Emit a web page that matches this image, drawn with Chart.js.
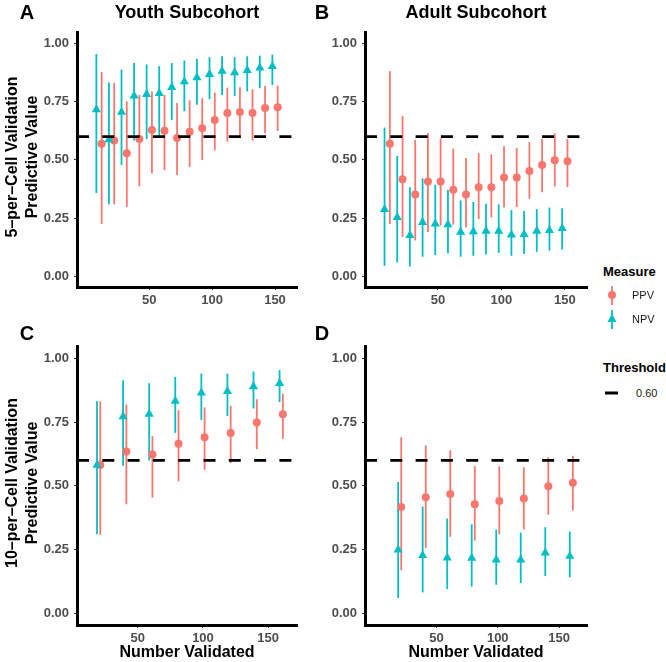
<!DOCTYPE html>
<html lang="en">
<head>
<meta charset="UTF-8">
<title>Predictive Value by Number Validated</title>
<script src="https://cdn.jsdelivr.net/npm/chart.js"></script>
<style>
    body { margin: 0; background: #fff; font-family: "Liberation Sans", Arial, sans-serif; }
    #wrap { position: relative; width: 666px; height: 662px; overflow: hidden; }
    canvas { position: absolute; }
    .txt { position: absolute; white-space: nowrap; line-height: 1; font-weight: bold; color: #000;
           transform: translate(-50%, -50%); }
    .rot { transform: translate(-50%, -50%) rotate(-90deg); }
    .leg { position: absolute; white-space: nowrap; line-height: 1; transform: translateY(-50%); color: #1a1a1a; }
    svg { position: absolute; }
</style>
</head>
<body>
<div id="wrap">
    <canvas id="panelA" width="305" height="300" style="left:0px;top:20px"></canvas>
    <canvas id="panelB" width="300" height="300" style="left:300px;top:20px"></canvas>
    <canvas id="panelC" width="305" height="316" style="left:0px;top:334px"></canvas>
    <canvas id="panelD" width="300" height="316" style="left:300px;top:334px"></canvas>

    <div class="txt" style="left:27px;top:12px;font-size:20px">A</div>
    <div class="txt" style="left:322px;top:12px;font-size:20px">B</div>
    <div class="txt" style="left:27px;top:333px;font-size:20px">C</div>
    <div class="txt" style="left:322px;top:333px;font-size:20px">D</div>
    <div class="txt" style="left:187px;top:12px;font-size:18px">Youth Subcohort</div>
    <div class="txt" style="left:476px;top:12px;font-size:18px">Adult Subcohort</div>

    <div class="txt rot" style="left:12px;top:157px;font-size:16px">5–per–Cell Validation</div>
    <div class="txt rot" style="left:32px;top:157px;font-size:16px">Predictive Value</div>
    <div class="txt rot" style="left:12px;top:483px;font-size:16px">10–per–Cell Validation</div>
    <div class="txt rot" style="left:32px;top:483px;font-size:16px">Predictive Value</div>

    <div class="txt" style="left:187px;top:652px;font-size:16px">Number Validated</div>
    <div class="txt" style="left:476px;top:652px;font-size:16px">Number Validated</div>

    <!-- legend -->
    <div class="leg" style="left:603px;top:271px;font-size:13px;font-weight:bold;color:#000">Measure</div>
    <svg style="left:603px;top:285px" width="18" height="22">
        <line x1="9" y1="1" x2="9" y2="20" stroke="#F8766D" stroke-width="1.8"/>
        <circle cx="9" cy="10" r="4" fill="#F8766D"/>
    </svg>
    <div class="leg" style="left:632px;top:295px;font-size:11px">PPV</div>
    <svg style="left:603px;top:309px" width="18" height="22">
        <line x1="9" y1="1" x2="9" y2="20" stroke="#00BFC4" stroke-width="1.8"/>
        <polygon points="9,5 13.6,13 4.4,13" fill="#00BFC4"/>
    </svg>
    <div class="leg" style="left:632px;top:319px;font-size:11px">NPV</div>
    <div class="leg" style="left:603px;top:367px;font-size:13px;font-weight:bold;color:#000">Threshold</div>
    <svg style="left:603px;top:388px" width="18" height="10">
        <line x1="2" y1="5" x2="15" y2="5" stroke="#000" stroke-width="3"/>
    </svg>
    <div class="leg" style="left:636px;top:393px;font-size:11px">0.60</div>
</div>

<script>
    // sample sizes
    const nFive = [10, 20, 30, 40, 50, 60, 70, 80, 90, 100, 110, 120, 130, 140, 150];
    const nTen = [20, 40, 60, 80, 100, 120, 140, 160];
    const xTicks = [50, 100, 150];
    const yTicks = [0, 0.25, 0.5, 0.75, 1];
    const threshold = 0.6;

    // A - youth, 5 per cell
    const youthFivePPV   = [0.569, 0.583, 0.529, 0.590, 0.628, 0.625, 0.594, 0.621, 0.636, 0.671, 0.702, 0.706, 0.702, 0.723, 0.726];
    const youthFivePPVLo = [0.225, 0.309, 0.298, 0.386, 0.442, 0.456, 0.435, 0.470, 0.499, 0.541, 0.579, 0.593, 0.583, 0.614, 0.625];
    const youthFivePPVHi = [0.878, 0.831, 0.751, 0.779, 0.794, 0.779, 0.744, 0.756, 0.765, 0.789, 0.810, 0.812, 0.803, 0.817, 0.819];
    const youthFiveNPV   = [0.716, 0.587, 0.705, 0.775, 0.782, 0.786, 0.812, 0.836, 0.854, 0.868, 0.881, 0.875, 0.885, 0.895, 0.902];
    const youthFiveNPVLo = [0.358, 0.309, 0.478, 0.583, 0.590, 0.604, 0.671, 0.709, 0.737, 0.761, 0.779, 0.775, 0.794, 0.808, 0.822];
    const youthFiveNPVHi = [0.955, 0.833, 0.888, 0.916, 0.910, 0.903, 0.916, 0.927, 0.934, 0.941, 0.945, 0.941, 0.945, 0.948, 0.952];

    // B - adult, 5 per cell
    const adultFivePPV   = [0.569, 0.417, 0.351, 0.407, 0.407, 0.372, 0.351, 0.382, 0.382, 0.424, 0.424, 0.452, 0.478, 0.499, 0.494];
    const adultFivePPVLo = [0.225, 0.169, 0.154, 0.190, 0.218, 0.222, 0.211, 0.246, 0.253, 0.295, 0.298, 0.333, 0.361, 0.386, 0.383];
    const adultFivePPVHi = [0.881, 0.688, 0.586, 0.614, 0.593, 0.548, 0.508, 0.529, 0.524, 0.559, 0.551, 0.576, 0.590, 0.614, 0.590];
    const adultFiveNPV   = [0.288, 0.253, 0.176, 0.232, 0.225, 0.222, 0.190, 0.192, 0.194, 0.194, 0.178, 0.180, 0.194, 0.197, 0.206];
    const adultFiveNPVLo = [0.045, 0.059, 0.042, 0.084, 0.091, 0.098, 0.084, 0.088, 0.094, 0.101, 0.088, 0.096, 0.105, 0.110, 0.115];
    const adultFiveNPVHi = [0.639, 0.517, 0.382, 0.421, 0.393, 0.372, 0.326, 0.319, 0.312, 0.309, 0.284, 0.281, 0.288, 0.295, 0.292];

    // C - youth, 10 per cell
    const youthTenPPV   = [0.582, 0.635, 0.623, 0.665, 0.691, 0.708, 0.749, 0.781];
    const youthTenPPVLo = [0.308, 0.428, 0.454, 0.518, 0.563, 0.590, 0.644, 0.685];
    const youthTenPPVHi = [0.832, 0.819, 0.695, 0.797, 0.808, 0.814, 0.840, 0.862];
    const youthTenNPV   = [0.582, 0.772, 0.782, 0.833, 0.865, 0.871, 0.890, 0.903];
    const youthTenNPVLo = [0.310, 0.579, 0.600, 0.708, 0.759, 0.774, 0.804, 0.829];
    const youthTenNPVHi = [0.832, 0.915, 0.903, 0.928, 0.941, 0.941, 0.949, 0.955];

    // D - adult, 10 per cell
    const adultTenPPV   = [0.417, 0.455, 0.468, 0.428, 0.441, 0.451, 0.499, 0.512];
    const adultTenPPVLo = [0.169, 0.256, 0.300, 0.285, 0.310, 0.329, 0.387, 0.403];
    const adultTenPPVHi = [0.691, 0.659, 0.640, 0.577, 0.577, 0.573, 0.612, 0.618];
    const adultTenNPV   = [0.249, 0.227, 0.218, 0.217, 0.210, 0.210, 0.237, 0.224];
    const adultTenNPVLo = [0.060, 0.082, 0.095, 0.105, 0.112, 0.118, 0.146, 0.141];
    const adultTenNPVHi = [0.515, 0.419, 0.372, 0.349, 0.329, 0.317, 0.338, 0.321];

    const PPV_COLOR = "#F8766D";
    const NPV_COLOR = "#00BFC4";
    const tickFont = { family: "'Liberation Sans', Arial, sans-serif", size: 13, weight: "bold" };

    // vertical intervals, drawn under the points (PPV first, then NPV)
    const errorBars = {
        id: "errorBars",
        beforeDatasetsDraw(chart) {
            const ctx = chart.ctx;
            const x = chart.scales.x, y = chart.scales.y;
            ctx.save();
            ctx.lineWidth = 1.8;
            chart.data.datasets.slice().reverse().forEach(ds => {
                ctx.strokeStyle = ds.backgroundColor;
                ds.data.forEach((p, i) => {
                    const px = x.getPixelForValue(p.x);
                    ctx.beginPath();
                    ctx.moveTo(px, y.getPixelForValue(ds.lo[i]));
                    ctx.lineTo(px, y.getPixelForValue(ds.hi[i]));
                    ctx.stroke();
                });
            });
            ctx.restore();
        }
    };

    // dashed threshold line on top
    const thresholdLine = {
        id: "thresholdLine",
        afterDatasetsDraw(chart) {
            const ctx = chart.ctx;
            const area = chart.chartArea;
            const py = chart.scales.y.getPixelForValue(threshold);
            ctx.save();
            ctx.strokeStyle = "#000";
            ctx.lineWidth = 2.7;
            ctx.setLineDash([12, 13.3]);
            ctx.beginPath();
            ctx.moveTo(area.left, py);
            ctx.lineTo(area.right, py);
            ctx.stroke();
            ctx.restore();
        }
    };

    function makePanel(id, n, dodge, xMin, xMax, ppv, ppvLo, ppvHi, npv, npvLo, npvHi, yAxisW, xAxisH, padRight) {
        const ctx = document.getElementById(id).getContext("2d");
        return new Chart(ctx, {
            type: "scatter",
            data: {
                datasets: [
                    {
                        label: "NPV",
                        data: n.map((v, i) => ({ x: v - dodge, y: npv[i] })),
                        lo: npvLo, hi: npvHi,
                        pointStyle: "triangle",
                        pointRadius: 5.3,
                        pointBorderWidth: 0,
                        backgroundColor: NPV_COLOR,
                        borderColor: NPV_COLOR
                    },
                    {
                        label: "PPV",
                        data: n.map((v, i) => ({ x: v + dodge, y: ppv[i] })),
                        lo: ppvLo, hi: ppvHi,
                        pointStyle: "circle",
                        pointRadius: 4,
                        pointBorderWidth: 0,
                        backgroundColor: PPV_COLOR,
                        borderColor: PPV_COLOR
                    }
                ]
            },
            options: {
                responsive: false,
                animation: false,
                events: [],
                layout: { padding: { left: 0, top: 8, right: padRight, bottom: 0 } },
                plugins: { legend: { display: false }, tooltip: { enabled: false } },
                scales: {
                    x: {
                        type: "linear",
                        min: xMin,
                        max: xMax,
                        afterBuildTicks: s => { s.ticks = xTicks.map(v => ({ value: v })); },
                        afterFit: s => { s.height = xAxisH; },
                        ticks: { color: "#4D4D4D", font: tickFont, padding: 3, maxRotation: 0 },
                        grid: { display: true, drawOnChartArea: false, drawTicks: true, tickLength: 3, color: "#333" },
                        border: { display: true, color: "#000", width: 3 }
                    },
                    y: {
                        type: "linear",
                        min: -0.046,
                        max: 1.046,
                        afterBuildTicks: s => { s.ticks = yTicks.map(v => ({ value: v })); },
                        afterFit: s => { s.width = yAxisW; },
                        ticks: { color: "#4D4D4D", font: tickFont, padding: 5, callback: v => v.toFixed(2) },
                        grid: { display: true, drawOnChartArea: false, drawTicks: true, tickLength: 3, color: "#333" },
                        border: { display: true, color: "#000", width: 3 }
                    }
                }
            },
            plugins: [errorBars, thresholdLine]
        });
    }

    makePanel("panelA", nFive, 2.1, -7.5, 167.5, youthFivePPV, youthFivePPVLo, youthFivePPVHi,
              youthFiveNPV, youthFiveNPVLo, youthFiveNPVHi, 77, 33, 8);
    makePanel("panelB", nFive, 2.1, -7.5, 167.5, adultFivePPV, adultFivePPVLo, adultFivePPVHi,
              adultFiveNPV, adultFiveNPVLo, adultFiveNPVHi, 65, 33, 13);
    makePanel("panelC", nTen, 1.25, 3.4, 172.1, youthTenPPV, youthTenPPVLo, youthTenPPVHi,
              youthTenNPV, youthTenNPVLo, youthTenNPVHi, 77, 25, 8);
    makePanel("panelD", nTen, 1.25, -8.3, 172.8, adultTenPPV, adultTenPPVLo, adultTenPPVHi,
              adultTenNPV, adultTenNPVLo, adultTenNPVHi, 65, 25, 13);
</script>
</body>
</html>
